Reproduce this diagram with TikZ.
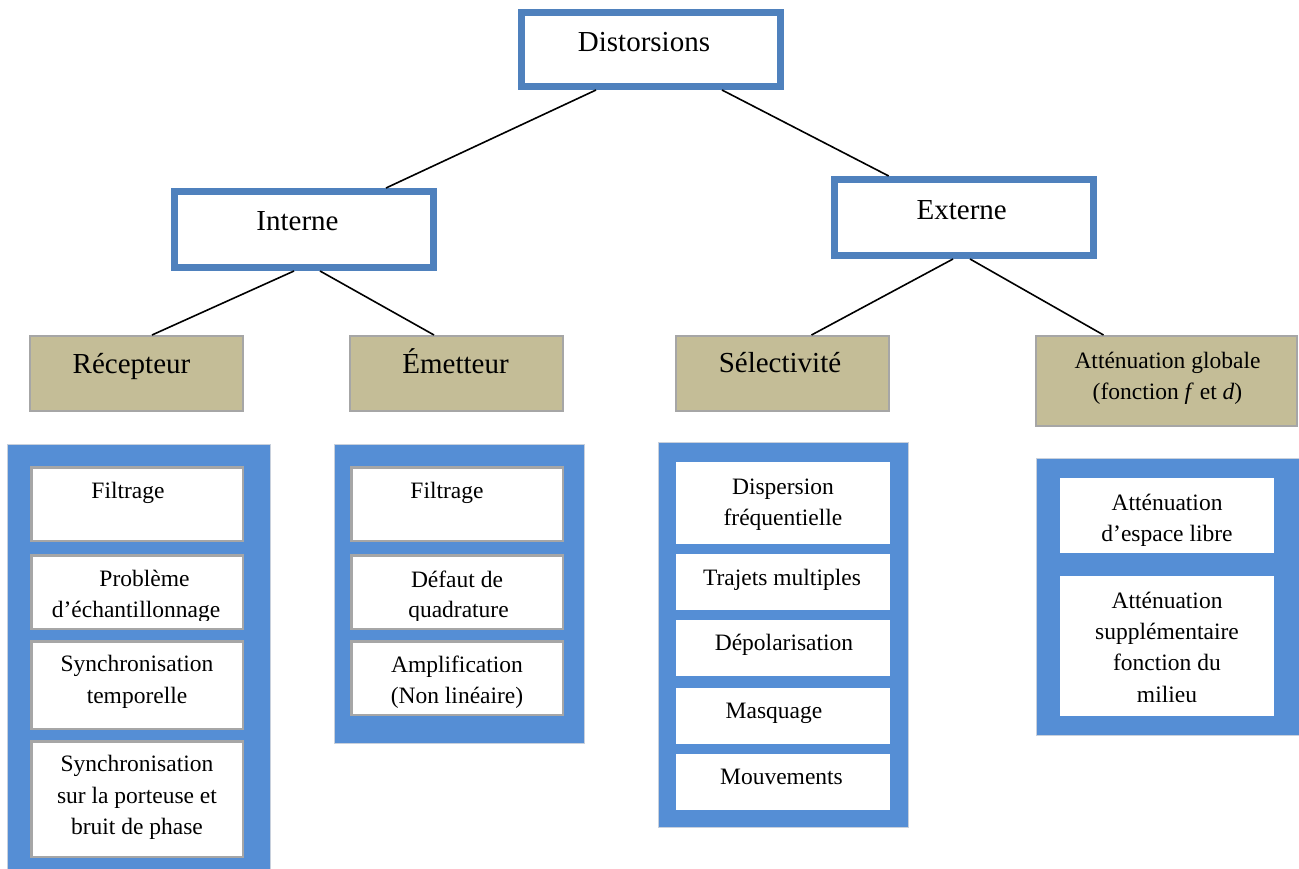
\documentclass[tikz,border=0pt]{standalone}
\usepackage{fontspec}
\setmainfont{Liberation Serif}
\definecolor{headblue}{RGB}{79,129,189}
\definecolor{panelblue}{RGB}{85,142,213}
\definecolor{paneledge}{RGB}{200,208,220}
\definecolor{tanfill}{RGB}{196,189,151}
\definecolor{boxgray}{RGB}{166,166,166}
\begin{document}
\begin{tikzpicture}[x=1pt,y=-1pt,
  headbox/.style={draw=headblue, line width=7pt, fill=white, minimum width=259pt, inner sep=0pt},
  catbox/.style={draw=boxgray, line width=2pt, fill=tanfill, inner sep=0pt},
  panel/.style={draw=paneledge, line width=1pt, fill=panelblue, inner sep=0pt},
  itembox/.style={draw=boxgray, line width=2.5pt, fill=white, minimum width=211.5pt, inner sep=0pt},
  plainbox/.style={fill=white, minimum width=214pt, inner sep=0pt},
  htxt/.style={anchor=base, inner sep=0pt, font=\fontsize{29}{34.8}\selectfont},
  txt/.style={anchor=north, inner sep=0pt, align=center, yshift=21.91pt,
              font=\fontsize{23.5}{31.3}\selectfont, execute at begin node=\strut},
  conn/.style={draw=black, line width=1.6pt}]
\useasboundingbox (0,0) rectangle (1299,869);

% top level
\node[headbox, minimum height=74pt] (dist) at (651,49.5) {};
\node[htxt] (tdist) at (644,51.7) {Distorsions};

% second level
\node[headbox, minimum height=76pt] (int) at (304,229.5) {};
\node[htxt] (tint) at (297.5,230.7) {Interne};
\node[headbox, minimum height=76pt] (ext) at (963.7,217.5) {};
\node[htxt] (text) at (961.7,219.3) {Externe};

% categories
\node[catbox, minimum width=213pt, minimum height=75pt] (rec) at (136.5,373.5) {};
\node[htxt] (trec) at (131.5,373) {Récepteur};
\node[catbox, minimum width=213pt, minimum height=75pt] (emt) at (456.5,373.5) {};
\node[htxt] (temt) at (455.5,373) {Émetteur};
\node[catbox, minimum width=213pt, minimum height=75pt] (sel) at (782.5,373.5) {};
\node[htxt] (tsel) at (780,372.7) {Sélectivité};
\node[catbox, minimum width=261pt, minimum height=90pt] (att) at (1166.5,381) {};
\node[txt] (tatt) at (1167.5,368) {\strut Atténuation globale\\(fonction \textit{f} et \textit{d})};

% connectors
\draw[conn] ([xshift=-55pt]dist.south) -- ([xshift=82pt]int.north);
\draw[conn] ([xshift=71pt]dist.south) -- ([xshift=-75pt]ext.north);
\draw[conn] ([xshift=-10pt]int.south) -- ([xshift=15.5pt]rec.north);
\draw[conn] ([xshift=16pt]int.south) -- ([xshift=-22.5pt]emt.north);
\draw[conn] ([xshift=-10.7pt]ext.south) -- ([xshift=29pt]sel.north);
\draw[conn] ([xshift=6.3pt]ext.south) -- ([xshift=-63pt]att.north);

% receiver panel
\node[panel, minimum width=263pt, minimum height=440pt] (p1) at (138.5,664) {};
\node[itembox, minimum height=73.5pt] (r1) at (137,504) {};
\node[txt] (tr1) at (128,498) {Filtrage};
\node[itembox, minimum height=73.5pt] (r2) at (137,592) {};
\begin{scope}
  \clip (31,555) rectangle (243,620.5);
  \node[txt] (tr2a) at (144.5,586.7) {Problème};
  \node[txt] (tr2b) at (136,617.5) {d’échantillonnage};
\end{scope}
\node[itembox, minimum height=87.5pt] (r3) at (137,685) {};
\node[txt] (tr3) at (137,671.7) {\strut Synchronisation\\temporelle};
\node[itembox, minimum height=115.5pt] (r4) at (137,799) {};
\node[txt] (tr4) at (137,771.7) {\strut Synchronisation\\sur la porteuse et\\bruit de phase};

% transmitter panel
\node[panel, minimum width=250pt, minimum height=299pt] (p2) at (459,593.5) {};
\node[itembox, minimum height=73.5pt] (e1) at (457,504) {};
\node[txt] (te1) at (447,498) {Filtrage};
\node[itembox, minimum height=73.5pt] (e2) at (457,592) {};
\begin{scope}
  \clip (351,555) rectangle (563,620.5);
  \node[txt] (te2a) at (457,587) {Défaut de};
  \node[txt] (te2b) at (458.5,617.5) {quadrature};
\end{scope}
\node[itembox, minimum height=73.5pt] (e3) at (457,678) {};
\node[txt] (te3) at (457,672) {\strut Amplification\\(Non linéaire)};

% selectivity panel
\node[panel, minimum width=250pt, minimum height=385pt] (p3) at (783,634.5) {};
\node[plainbox, minimum height=82pt] (s1) at (783,503) {};
\node[txt] (ts1) at (783,494) {\strut Dispersion\\fréquentielle};
\node[plainbox, minimum height=56pt] (s2) at (783,582) {};
\node[txt] (ts2) at (782,585) {Trajets multiples};
\node[plainbox, minimum height=56pt] (s3) at (783,648) {};
\node[txt] (ts3) at (784,650.7) {Dépolarisation};
\node[plainbox, minimum height=56pt] (s4) at (783,716) {};
\node[txt] (ts4) at (774,718) {Masquage};
\node[plainbox, minimum height=56pt] (s5) at (783,782) {};
\node[txt] (ts5) at (781.5,784) {Mouvements};

% attenuation panel
\node[panel, minimum width=264pt, minimum height=277pt] (p4) at (1168,596.5) {};
\node[plainbox, minimum height=75pt] (a1) at (1167,515.5) {};
\node[txt] (ta1) at (1167,510) {\strut Atténuation\\d’espace libre};
\node[plainbox, minimum height=140pt] (a2) at (1167,646) {};
\node[txt] (ta2) at (1167,608) {\strut Atténuation\\supplémentaire\\fonction du\\milieu};
\end{tikzpicture}
\end{document}
